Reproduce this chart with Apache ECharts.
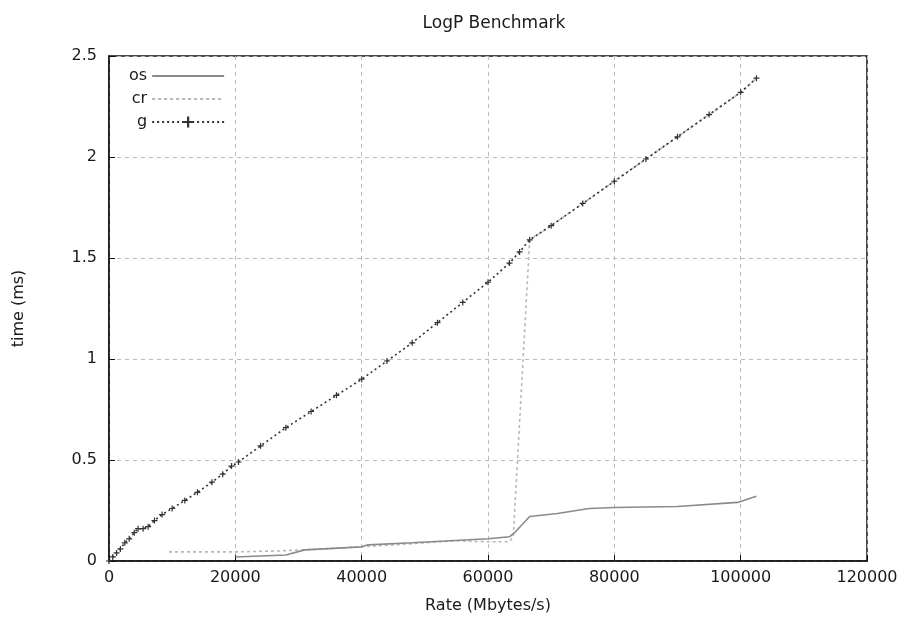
<!DOCTYPE html>
<html>
<head>
<meta charset="utf-8">
<title>LogP Benchmark</title>
<script src="https://cdn.jsdelivr.net/npm/echarts@6/dist/echarts.min.js"></script>
<style>
  html, body { margin: 0; padding: 0; background: #fff; }
  #chart { width: 908px; height: 623px; }
</style>
</head>
<body>
<div id="chart"></div>
<script>
// Transfer rate (Mbytes/s) against time (ms) for the three LogP parameters
const gRate = [0, 600, 1200, 1800, 2500, 3200, 4000, 4600, 5400, 6200, 7200, 8400, 10000, 12000, 14000, 16300, 18000, 19400, 20500, 24000, 28000, 32000, 36000, 40000, 44000, 48000, 52000, 56000, 60000, 63400, 65000, 66600, 70000, 75000, 80000, 85000, 90000, 95000, 100000, 102500];
const gTime = [0, 0.02, 0.04, 0.06, 0.09, 0.11, 0.14, 0.16, 0.16, 0.17, 0.20, 0.23, 0.26, 0.30, 0.34, 0.39, 0.43, 0.47, 0.49, 0.57, 0.66, 0.74, 0.82, 0.90, 0.99, 1.08, 1.18, 1.28, 1.38, 1.475, 1.53, 1.59, 1.66, 1.77, 1.88, 1.99, 2.10, 2.21, 2.32, 2.39];

const osRate = [20000, 28000, 31000, 40000, 41000, 48000, 54000, 60000, 63400, 64200, 66600, 71000, 76000, 80000, 90000, 99500, 102500];
const osTime = [0.02, 0.03, 0.055, 0.07, 0.08, 0.09, 0.10, 0.11, 0.12, 0.14, 0.22, 0.235, 0.26, 0.265, 0.27, 0.29, 0.32];

const crRate = [9500, 15000, 20000, 27000, 31000, 40000, 45000, 50000, 55000, 60000, 63400, 64000, 66600, 70000, 75000, 80000, 85000, 90000, 95000, 100000, 102500];
const crTime = [0.045, 0.045, 0.045, 0.05, 0.055, 0.07, 0.08, 0.09, 0.10, 0.095, 0.095, 0.12, 1.59, 1.66, 1.77, 1.88, 1.99, 2.10, 2.21, 2.32, 2.39];

const xTicks = [0, 20000, 40000, 60000, 80000, 100000, 120000];
const yTicks = [0, 0.5, 1, 1.5, 2, 2.5];

const pairs = (xs, ys) => xs.map((x, i) => [x, ys[i]]);
const plus = 'path://M4,0H6V4H10V6H6V10H4V6H0V4H4Z';
const font = '"DejaVu Sans", sans-serif';
const ink = '#1a1a1a';
const fs = 16;

const chart = echarts.init(document.getElementById('chart'), null, { renderer: 'canvas' });
chart.setOption({
  animation: false,
  backgroundColor: '#fff',
  title: {
    text: 'LogP Benchmark',
    left: 489, top: 10, textAlign: 'center',
    textStyle: { fontFamily: font, fontSize: 17, fontWeight: 'normal', color: ink }
  },
  grid: {
    left: 109, right: 41, top: 56, bottom: 62,
    show: true, borderColor: '#111', borderWidth: 1.5, backgroundColor: 'transparent'
  },
  legend: {
    orient: 'vertical', left: 127, top: 66, align: 'right',
    itemWidth: 72, itemHeight: 14, itemGap: 7, padding: 2,
    textStyle: { fontFamily: font, fontSize: fs, color: ink, width: 30, align: 'right' },
    data: [
      { name: 'os', itemStyle: { opacity: 0 } },
      { name: 'cr', itemStyle: { opacity: 0 } },
      { name: 'g' }
    ]
  },
  xAxis: {
    type: 'value', min: xTicks[0], max: xTicks[xTicks.length - 1], interval: 20000,
    name: 'Rate (Mbytes/s)', nameLocation: 'middle', nameGap: 37,
    nameTextStyle: { fontFamily: font, fontSize: fs, color: ink },
    axisLine: { show: true, lineStyle: { color: '#111', width: 1.5 } },
    axisTick: { show: true, inside: true, length: 6, lineStyle: { color: '#111' } },
    axisLabel: { fontFamily: font, fontSize: fs, color: ink, margin: 9, formatter: v => String(v) },
    splitLine: { show: true, lineStyle: { color: '#bbb', type: [4, 4], width: 1 } }
  },
  yAxis: {
    type: 'value', min: yTicks[0], max: yTicks[yTicks.length - 1], interval: 0.5,
    name: 'time (ms)', nameLocation: 'middle', nameGap: 82,
    nameTextStyle: { fontFamily: font, fontSize: fs, color: ink },
    axisLine: { show: true, lineStyle: { color: '#111', width: 1.5 } },
    axisTick: { show: true, inside: true, length: 6, lineStyle: { color: '#111' } },
    axisLabel: { fontFamily: font, fontSize: fs, color: ink, margin: 12, formatter: v => String(v) },
    splitLine: { show: true, lineStyle: { color: '#bbb', type: [4, 4], width: 1 } }
  },
  series: [
    {
      name: 'os', type: 'line', data: pairs(osRate, osTime),
      symbol: 'none', z: 3,
      lineStyle: { color: '#8a8a8a', width: 1.6, type: 'solid' },
      itemStyle: { color: '#8a8a8a' }
    },
    {
      name: 'cr', type: 'line', data: pairs(crRate, crTime),
      symbol: 'none', z: 2,
      lineStyle: { color: '#b8b8b8', width: 1.6, type: [3, 3] },
      itemStyle: { color: '#b8b8b8' }
    },
    {
      name: 'g', type: 'line', data: pairs(gRate, gTime),
      symbol: plus, symbolSize: 6, showSymbol: true, z: 4,
      lineStyle: { color: '#333', width: 1.6, type: [2, 3] },
      itemStyle: { color: '#333' }
    }
  ]
});
</script>
</body>
</html>
